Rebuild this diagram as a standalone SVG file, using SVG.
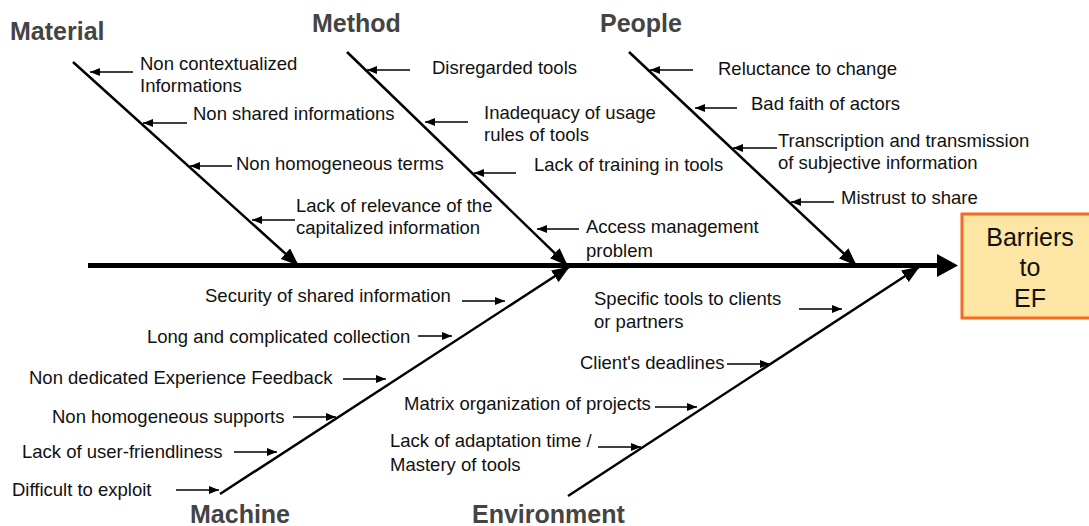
<svg xmlns="http://www.w3.org/2000/svg" width="1089" height="526" viewBox="0 0 1089 526">
<style>
text{font-family:"Liberation Sans",Arial,sans-serif;}
.lbl{font-size:18.5px;fill:#111;}
.cat{font-size:25px;font-weight:bold;fill:#444;}
.box{font-size:25px;fill:#111;text-anchor:middle;}
.bone{stroke:#000;stroke-width:2.5;fill:none;marker-end:url(#big);}
.sa{stroke:#000;stroke-width:1.3;fill:none;marker-end:url(#small);}
</style>
<defs>
<marker id="big" markerUnits="userSpaceOnUse" markerWidth="18" markerHeight="14" refX="17" refY="7" orient="auto">
<path d="M0,0 L18,7 L0,14 z" fill="#000"/>
</marker>
<marker id="small" markerUnits="userSpaceOnUse" markerWidth="10" markerHeight="8" refX="10" refY="4" orient="auto">
<path d="M0,0 L10,4 L0,8 z" fill="#000"/>
</marker>
</defs>
<rect width="1089" height="526" fill="#fff"/>

<g id="spine">
<line x1="88" y1="265.5" x2="942" y2="265.5" stroke="#000" stroke-width="5"/>
<polygon points="937,254 958,265.5 937,277" fill="#000"/>
</g>

<g id="effect">
<rect x="962" y="214" width="140" height="104" fill="#fde5a3" stroke="#f26b21" stroke-width="3"/>
<text class="box" x="1030" y="246">Barriers</text>
<text class="box" x="1030" y="276">to</text>
<text class="box" x="1030" y="307">EF</text>
</g>

<g id="connectors">
<line class="bone" x1="73" y1="62" x2="298" y2="265"/>
<line class="bone" x1="347" y1="52" x2="567" y2="265"/>
<line class="bone" x1="629" y1="52" x2="856" y2="265"/>
<line class="bone" x1="220" y1="494" x2="569" y2="267"/>
<line class="bone" x1="568" y1="496" x2="919" y2="267"/>

<line class="sa" x1="133" y1="72" x2="90" y2="72"/>
<line class="sa" x1="187" y1="123" x2="143" y2="123"/>
<line class="sa" x1="232" y1="166" x2="190" y2="166"/>
<line class="sa" x1="295" y1="220" x2="252" y2="220"/>

<line class="sa" x1="410" y1="70" x2="367" y2="70"/>
<line class="sa" x1="468" y1="122" x2="425" y2="122"/>
<line class="sa" x1="516" y1="173" x2="474" y2="173"/>
<line class="sa" x1="579" y1="229" x2="537" y2="229"/>

<line class="sa" x1="693" y1="70" x2="650" y2="70"/>
<line class="sa" x1="737" y1="108" x2="695" y2="108"/>
<line class="sa" x1="777" y1="148" x2="733" y2="148"/>
<line class="sa" x1="834" y1="202" x2="791" y2="202"/>

<line class="sa" x1="462" y1="301" x2="505" y2="301"/>
<line class="sa" x1="418" y1="336" x2="452" y2="336"/>
<line class="sa" x1="343" y1="379" x2="386" y2="379"/>
<line class="sa" x1="293" y1="417" x2="336" y2="417"/>
<line class="sa" x1="234" y1="452" x2="277" y2="452"/>
<line class="sa" x1="176" y1="490" x2="219" y2="490"/>

<line class="sa" x1="799" y1="309" x2="842" y2="309"/>
<line class="sa" x1="727" y1="364" x2="770" y2="364"/>
<line class="sa" x1="655" y1="407" x2="697" y2="407"/>
<line class="sa" x1="598" y1="447" x2="641" y2="447"/>
</g>

<g id="material">
<text class="cat" x="10" y="40">Material</text>
<text class="lbl" x="140" y="70">Non contextualized</text>
<text class="lbl" x="140" y="92">Informations</text>
<text class="lbl" x="193" y="120">Non shared informations</text>
<text class="lbl" x="236" y="170">Non homogeneous terms</text>
<text class="lbl" x="296" y="212">Lack of relevance of the</text>
<text class="lbl" x="296" y="234">capitalized information</text>
</g>

<g id="method">
<text class="cat" x="312" y="32">Method</text>
<text class="lbl" x="432" y="74">Disregarded tools</text>
<text class="lbl" x="484" y="119">Inadequacy of usage</text>
<text class="lbl" x="484" y="141">rules of tools</text>
<text class="lbl" x="534" y="171">Lack of training in tools</text>
<text class="lbl" x="586" y="233">Access management</text>
<text class="lbl" x="586" y="257">problem</text>
</g>

<g id="people">
<text class="cat" x="600" y="32">People</text>
<text class="lbl" x="718" y="75">Reluctance to change</text>
<text class="lbl" x="751" y="110">Bad faith of actors</text>
<text class="lbl" x="778" y="147">Transcription and transmission</text>
<text class="lbl" x="778" y="169">of subjective information</text>
<text class="lbl" x="841" y="204">Mistrust to share</text>
</g>

<g id="machine">
<text class="cat" x="190" y="523">Machine</text>
<text class="lbl" x="205" y="302">Security of shared information</text>
<text class="lbl" x="147" y="343">Long and complicated collection</text>
<text class="lbl" x="29" y="384">Non dedicated Experience Feedback</text>
<text class="lbl" x="52" y="423">Non homogeneous supports</text>
<text class="lbl" x="22" y="458">Lack of user-friendliness</text>
<text class="lbl" x="12" y="496">Difficult to exploit</text>
</g>

<g id="environment">
<text class="cat" x="472" y="523">Environment</text>
<text class="lbl" x="594" y="305">Specific tools to clients</text>
<text class="lbl" x="594" y="328">or partners</text>
<text class="lbl" x="580" y="369">Client's deadlines</text>
<text class="lbl" x="404" y="410">Matrix organization of projects</text>
<text class="lbl" x="390" y="447">Lack of adaptation time /</text>
<text class="lbl" x="390" y="471">Mastery of tools</text>
</g>
</svg>
